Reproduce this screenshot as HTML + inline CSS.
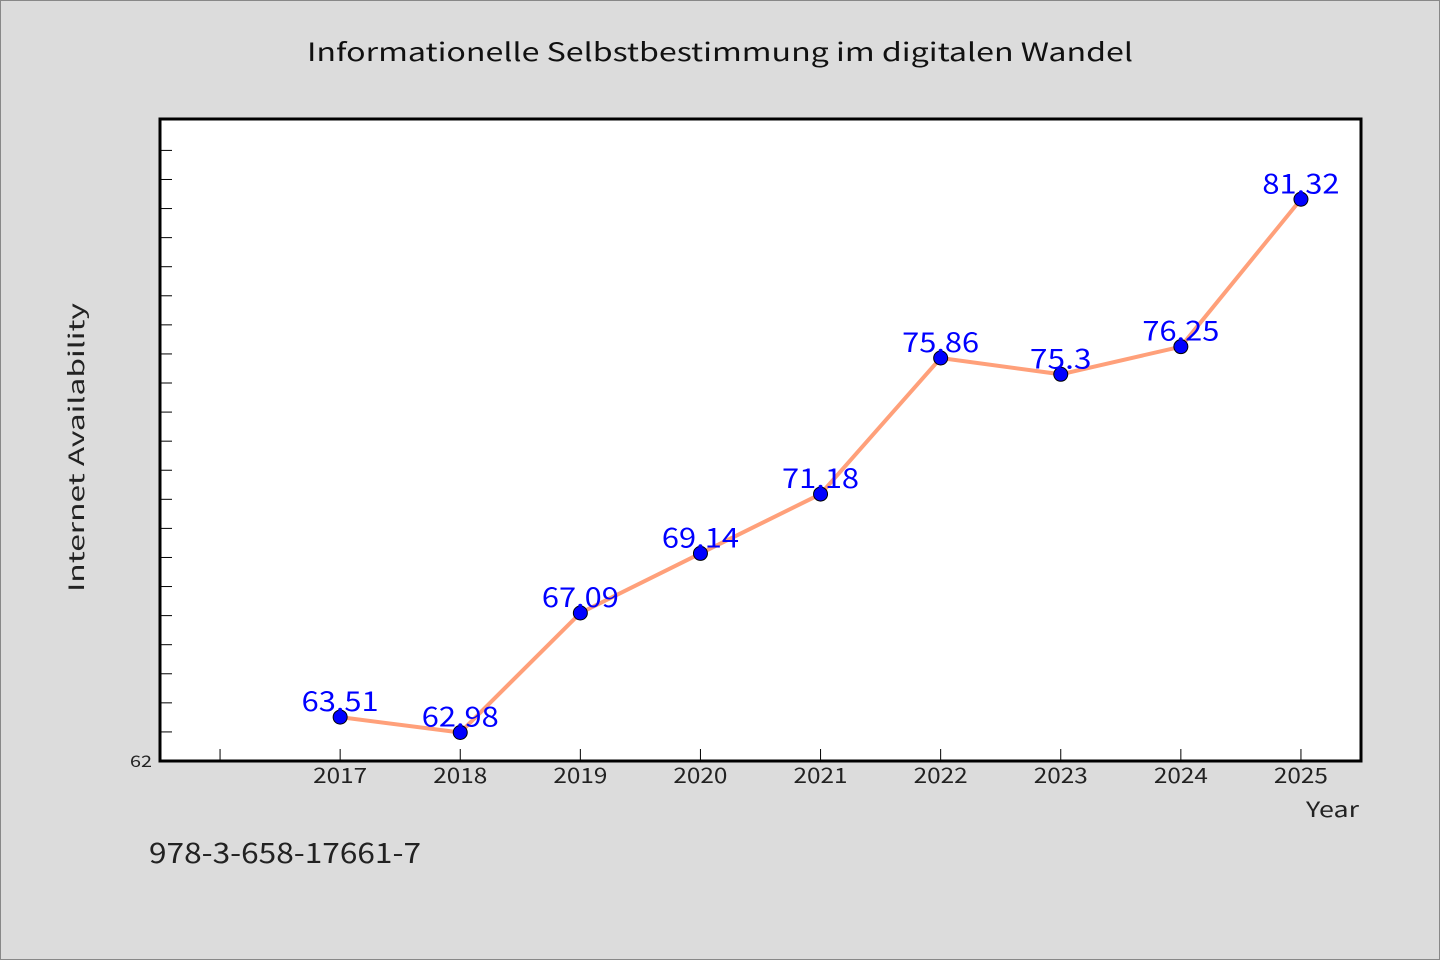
<!DOCTYPE html>
<html><head><meta charset="utf-8"><style>
body{margin:0;background:#dcdcdc;overflow:hidden;}
svg{display:block;}
svg text{font-family:"WenQuanYi Zen Hei Mono","WenQuanYi Zen Hei","Noto Sans CJK SC","Liberation Sans",sans-serif;}
</style></head><body>
<svg width="1440" height="960" xmlns="http://www.w3.org/2000/svg">
<rect x="0.5" y="0.5" width="1439" height="959" fill="#dcdcdc" stroke="#888"/>
<text x="307" y="61" font-size="25" fill="#111" textLength="826" lengthAdjust="spacingAndGlyphs">Informationelle Selbstbestimmung im digitalen Wandel</text>
<rect x="160" y="119" width="1201" height="642" fill="#fff"/>
<g id="ticks"></g>
<g id="series"></g>
<rect x="160" y="119" width="1201" height="642" fill="none" stroke="#000" stroke-width="3"/>
<text transform="translate(84,592) rotate(-90)" font-size="21" fill="#222" textLength="289" lengthAdjust="spacingAndGlyphs">Internet Availability</text>
<text x="1306" y="817" font-size="21" fill="#222" textLength="53" lengthAdjust="spacingAndGlyphs">Year</text>
<text x="149" y="863" font-size="28" fill="#222" textLength="272" lengthAdjust="spacingAndGlyphs">978-3-658-17661-7</text>
</svg>
<script>
const years=[2017,2018,2019,2020,2021,2022,2023,2024,2025];
const values=[63.51,62.98,67.09,69.14,71.18,75.86,75.3,76.25,81.32];
const labels=["63.51","62.98","67.09","69.14","71.18","75.86","75.3","76.25","81.32"];
const yMin=62,yMax=84.08,xMin=2015.5,xMax=2025.5;
const X=v=>160+(v-xMin)/(xMax-xMin)*1201;
const Y=v=>761-(v-yMin)/(yMax-yMin)*642;
const NS="http://www.w3.org/2000/svg";
function mk(t,a,p){const e=document.createElementNS(NS,t);for(const k in a)e.setAttribute(k,a[k]);p.appendChild(e);return e;}
const tk=document.getElementById('ticks');
for(let v=63;v<=83;v++){const l=mk('line',{x1:160,x2:172,y1:Y(v),y2:Y(v),stroke:'#000','stroke-width':1},tk);
}
const yl=mk('text',{x:130,y:767,'font-size':16,fill:'#222',textLength:22,lengthAdjust:'spacingAndGlyphs'},tk);yl.textContent='62';

for(let yr=2016;yr<=2025;yr++){const l=mk('line',{x1:X(yr),x2:X(yr),y1:761,y2:749,stroke:'#000','stroke-width':1},tk);
}
years.forEach(yr=>{const t=mk('text',{x:X(yr)-27,y:783,'font-size':21,fill:'#222',textLength:54,lengthAdjust:'spacingAndGlyphs'},tk);t.textContent=yr;
});
const s=document.getElementById('series');
const pl=mk('polyline',{points:years.map((y,i)=>X(y)+','+Y(values[i])).join(' '),fill:'none',stroke:'#ffa07a','stroke-width':4},s);

years.forEach((yr,i)=>{const c=mk('circle',{cx:X(yr),cy:Y(values[i]),r:7,fill:'#0000ff',stroke:'#000','stroke-width':1},s);

const w=labels[i].length*15.4;
const t=mk('text',{x:X(yr)-w/2,y:Y(values[i])-6,'font-size':27,fill:'#0000ff',textLength:w,lengthAdjust:'spacingAndGlyphs'},s);t.textContent=labels[i];
});
</script>
</body></html>
